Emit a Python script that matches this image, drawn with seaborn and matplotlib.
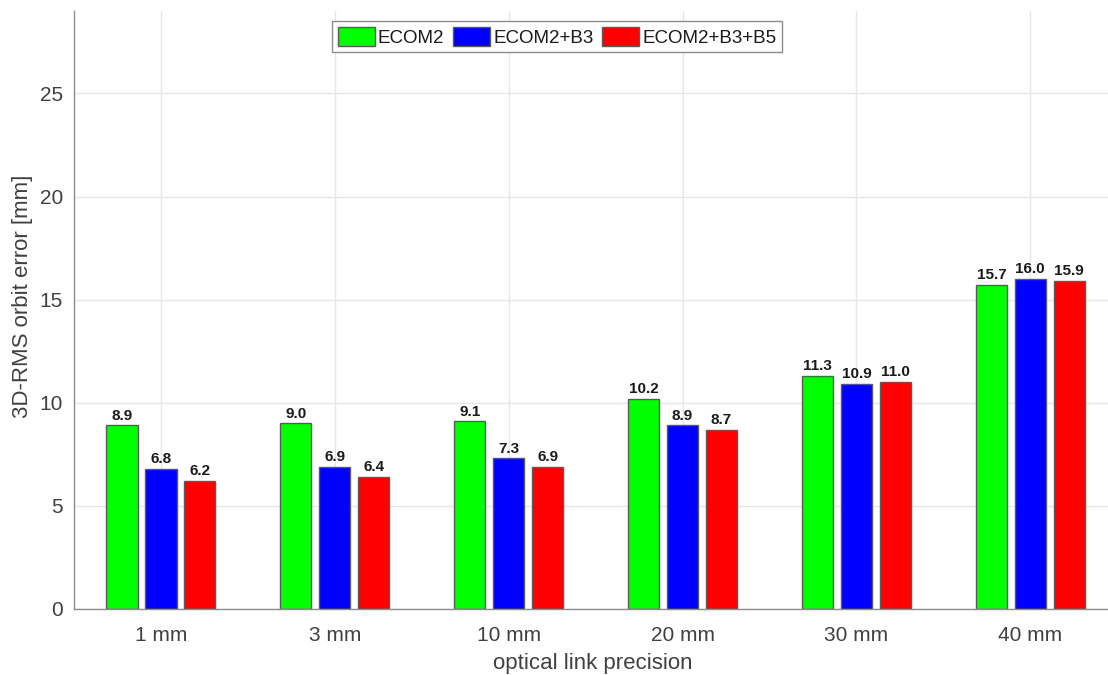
import matplotlib
matplotlib.use("Agg")
import matplotlib.pyplot as plt
import pandas as pd
import seaborn as sns

# Orbit error per optical link precision and solar radiation pressure model
categories = ["1 mm", "3 mm", "10 mm", "20 mm", "30 mm", "40 mm"]
models = ["ECOM2", "ECOM2+B3", "ECOM2+B3+B5"]
ecom2 = [8.9, 9.0, 9.1, 10.2, 11.3, 15.7]
ecom2_b3 = [6.8, 6.9, 7.3, 8.9, 10.9, 16.0]
ecom2_b3_b5 = [6.2, 6.4, 6.9, 8.7, 11.0, 15.9]
yticks = [0, 5, 10, 15, 20, 25]
colors = ["#00ff00", "#0000ff", "#ff0000"]

rows = []
for model, values in zip(models, [ecom2, ecom2_b3, ecom2_b3_b5]):
    for cat, v in zip(categories, values):
        rows.append({"precision": cat, "model": model, "error": v})
df = pd.DataFrame(rows)

sns.set_theme(style="white")
plt.rcParams["font.family"] = ["Liberation Sans", "DejaVu Sans"]

fig = plt.figure(figsize=(11.08, 6.75), dpi=100)
ax = fig.add_axes([74 / 1108, 1 - 609 / 675, 1 - 74 / 1108, (609 - 11) / 675])

sns.barplot(
    data=df, x="precision", y="error", hue="model",
    order=categories, hue_order=models, palette=colors,
    width=0.672, gap=0.2, edgecolor="#5a5a5a", linewidth=1.0,
    saturation=1, errorbar=None, ax=ax, legend=True,
)

for container in ax.containers:
    ax.bar_label(container, fmt="%.1f", fontsize=11, fontweight="bold",
                 color="#1a1a1a", padding=2)

ax.set_xlim(-0.5, 5.447)
ax.set_ylim(0, 29)
ax.set_yticks(yticks)
ax.set_axisbelow(True)
ax.grid(True, color="#e6e6e6", linewidth=1.0)
for side in ["top", "right"]:
    ax.spines[side].set_visible(False)
for side in ["left", "bottom"]:
    ax.spines[side].set_color("#8c8c8c")
    ax.spines[side].set_linewidth(1.0)
ax.tick_params(axis="y", direction="in", length=5, width=1, color="#8c8c8c",
               labelsize=15, labelcolor="#404040", pad=8)
ax.tick_params(axis="x", length=0, labelsize=15, labelcolor="#404040", pad=12)
ax.set_xlabel("")
ax.set_ylabel("")

fig.text(23 / 1108, 1 - 296 / 675, "3D-RMS orbit error [mm]", rotation=90,
         ha="center", va="center", fontsize=16, color="#404040")
fig.text(593 / 1108, 1 - 663 / 675, "optical link precision",
         ha="center", va="center", fontsize=16, color="#404040")

handles, labels = ax.get_legend_handles_labels()
ax.legend(
    handles, labels, loc="upper center", ncol=3,
    bbox_to_anchor=(557 / 1108, 1 - 21 / 675), bbox_transform=fig.transFigure,
    fontsize=13.5, frameon=True, fancybox=False, edgecolor="#8c8c8c",
    framealpha=1, handlelength=2.0, handleheight=1.2, handletextpad=0.15,
    columnspacing=0.45, borderpad=0.3, borderaxespad=0,
)
ax.get_legend().get_frame().set_linewidth(1.0)
for t in ax.get_legend().get_texts():
    t.set_color("#1a1a1a")

fig.savefig("out.png", dpi=100)
